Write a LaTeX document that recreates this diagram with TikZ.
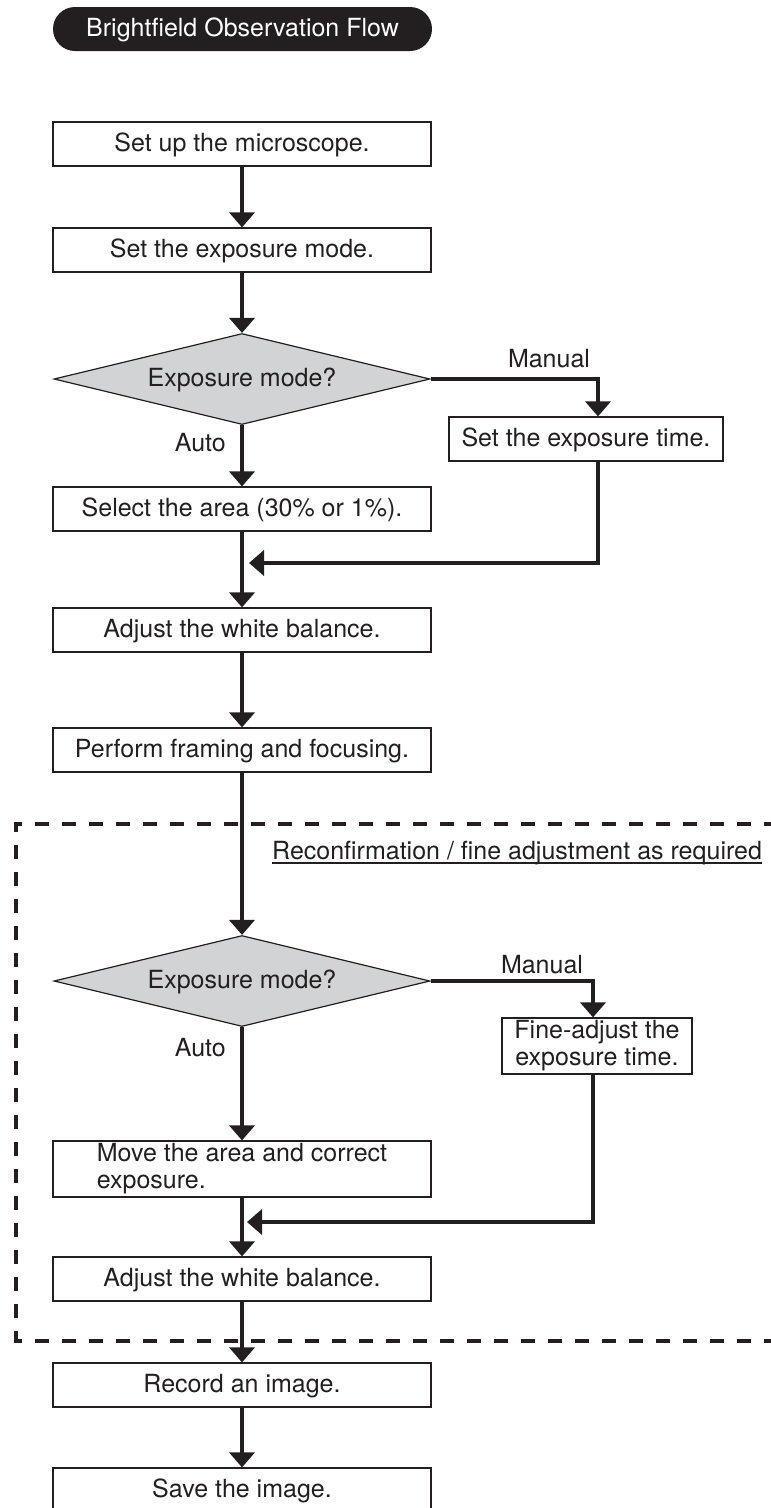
\documentclass[tikz,border=0pt]{standalone}
\usepackage{fontspec}
\setmainfont{TeX Gyre Heros}
\usetikzlibrary{arrows.meta,shapes.geometric,calc}
\definecolor{ink}{HTML}{231F20}
\definecolor{dgray}{HTML}{D1D3D4}
\begin{document}
\begin{tikzpicture}[x=1pt,y=-1pt,
  font=\fontsize{25}{27}\selectfont, text=ink,
  box/.style={draw=ink, line width=1.2pt, minimum width=378pt, minimum height=44pt, inner sep=0pt, fill=white},
  stepbox/.style={box, text height=18pt, text depth=3pt},
  decide/.style={diamond, draw=ink, line width=1.2pt, fill=dgray, aspect=4.13,
    minimum width=376pt, minimum height=91pt, inner sep=0pt, text height=18pt, text depth=3pt},
  flow/.style={draw=ink, line width=4pt},
  arr/.style={flow, -{Triangle[length=15pt,width=25pt]}},
  lbl/.style={inner sep=0pt},
  dashline/.style={draw=ink, line width=4pt, dash pattern=on 14pt off 13pt, dash phase=6pt},
]
\useasboundingbox (0,0) rectangle (771,1508);

% dashed region
\path[dashline] (14,824) -- (790,824);
\path[dashline] (16,824) -- (16,1343);
\path[dashline] (14,1341) -- (790,1341);

% title
\node[fill=ink, rounded corners=22pt, minimum width=379pt, minimum height=44pt, inner sep=0pt,
      text=white, text height=18pt, text depth=3pt] (title) at (242.5,29) {Brightfield Observation Flow};

% main column
\node[stepbox] (b1) at (242,144) {Set up the microscope.};
\node[stepbox] (b2) at (242,250) {Set the exposure mode.};
\node[decide] (d1) at (242,379) {Exposure mode?};
\node[stepbox, minimum width=274pt] (etime) at (586,439) {Set the exposure time.};
\node[stepbox] (sel) at (242,509) {Select the area (30\% or 1\%).};
\coordinate (j1) at (242,563);
\node[stepbox] (wb1) at (242,630) {Adjust the white balance.};
\node[stepbox] (perf) at (242,750) {Perform framing and focusing.};

\node[lbl, anchor=base west] (rc) at (272,859) {Reconfirmation / fine adjustment as required};
\draw[ink, line width=1.2pt] ([yshift=-4pt]rc.base west) -- ([yshift=-4pt]rc.base east);

\node[decide] (d2) at (242,981) {Exposure mode?};
\node[box, minimum width=190pt, minimum height=56pt, align=center] (fine) at (597,1046) {Fine-adjust the\\exposure time.};
\node[box, minimum height=56pt, align=left] (move) at (242,1169) {Move the area and correct\\exposure.};
\coordinate (j2) at (242,1222);
\node[stepbox] (wb2) at (242,1279) {Adjust the white balance.};
\node[stepbox] (rec) at (242,1385) {Record an image.};
\node[stepbox] (save) at (242,1490) {Save the image.};

% labels
\node[lbl, anchor=base] (man1) at (549,367) {Manual};
\node[lbl, anchor=base east] (auto1) at (226,451) {Auto};
\node[lbl, anchor=base] (man2) at (542,973) {Manual};
\node[lbl, anchor=base east] (auto2) at (226,1056) {Auto};

% connectors
\draw[arr] (b1.south) -- (b2.north);
\draw[arr] (b2.south) -- (d1.north);
\draw[arr] (d1.east) -| ([xshift=12pt]etime.north);
\draw[arr] (d1.south) -- (sel.north);
\draw[flow] (sel.south) -- (j1);
\draw[arr] (j1) -- (wb1.north);
\draw[arr] ([xshift=12pt]etime.south) |- ([xshift=7pt]j1);
\draw[arr] (wb1.south) -- (perf.north);
\draw[arr] (perf.south) -- (d2.north);
\draw[arr] (d2.east) -| ([xshift=-4pt]fine.north);
\draw[arr] (d2.south) -- (move.north);
\draw[flow] (move.south) -- (j2);
\draw[arr] (j2) -- (wb2.north);
\draw[arr] ([xshift=-4pt]fine.south) |- ([xshift=5pt]j2);
\draw[arr] (wb2.south) -- (rec.north);
\draw[arr] (rec.south) -- (save.north);
\end{tikzpicture}
\end{document}
